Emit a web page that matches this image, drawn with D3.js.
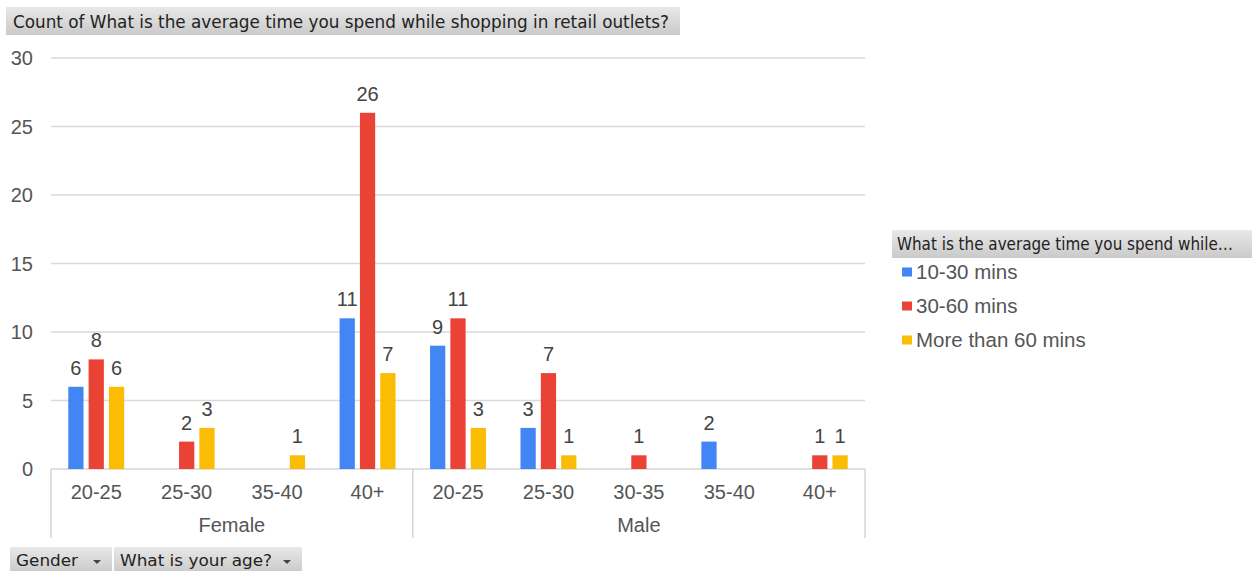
<!DOCTYPE html>
<html>
<head>
<meta charset="utf-8">
<script src="https://cdn.jsdelivr.net/npm/d3@7"></script>
<style>
  html, body { margin: 0; padding: 0; background: #fff; }
  svg { display: block; }
</style>
</head>
<body>
<svg id="chart" width="1252" height="571"></svg>
<script>
// Pivot chart: count of shoppers by gender / age group and time spent in retail outlets
const genders = ["Female", "Male"];
const femaleAges = ["20-25", "25-30", "35-40", "40+"];
const maleAges = ["20-25", "25-30", "30-35", "35-40", "40+"];
const seriesNames = ["10-30 mins", "30-60 mins", "More than 60 mins"];
const seriesColors = ["#4285F4", "#EA4335", "#FBBC04"];
// values per age group, in series order (null = no responses)
const female10to30 = [6, null, null, 11];
const female30to60 = [8, 2, null, 26];
const femaleOver60 = [6, 3, 1, 7];
const male10to30 = [9, 3, null, 2, null];
const male30to60 = [11, 7, 1, null, 1];
const maleOver60 = [3, 1, null, null, 1];
const yTicks = [0, 5, 10, 15, 20, 25, 30];
const chartTitle = "Count of What is the average time you spend while shopping in retail outlets?";
const legendTitle = "What is the average time you spend while…";
const filterButtons = ["Gender", "What is your age?"];

const rows = [];
femaleAges.forEach((a, i) => rows.push({ gender: "Female", age: a, values: [female10to30[i], female30to60[i], femaleOver60[i]] }));
maleAges.forEach((a, i) => rows.push({ gender: "Male", age: a, values: [male10to30[i], male30to60[i], maleOver60[i]] }));
rows.forEach(r => r.key = r.gender + "|" + r.age);

const svg = d3.select("#chart");
const plotLeft = 51, plotRight = 865, plotTop = 58, plotBottom = 469;
const textFont = "'Liberation Sans', Arial, sans-serif";
const headerFont = "'DejaVu Sans Condensed', 'DejaVu Sans', sans-serif";
const labelSize = 20;

const x = d3.scaleBand().domain(rows.map(r => r.key)).range([plotLeft, plotRight]);
const xs = d3.scaleBand().domain(d3.range(seriesNames.length)).range([0, x.bandwidth()])
  .paddingInner(0.25).paddingOuter(0.85);
const y = d3.scaleLinear().domain([0, 30]).range([plotBottom, plotTop]);

// header gradient
const defs = svg.append("defs");
const grad = defs.append("linearGradient").attr("id", "hdr").attr("x1", 0).attr("y1", 0).attr("x2", 0).attr("y2", 1);
grad.append("stop").attr("offset", "0%").attr("stop-color", "#e8e8e8");
grad.append("stop").attr("offset", "100%").attr("stop-color", "#cacaca");

// title box
svg.append("rect").attr("x", 6).attr("y", 7).attr("width", 674).attr("height", 28).attr("fill", "url(#hdr)");
svg.append("text").attr("x", 13).attr("y", 28).attr("font-family", headerFont).attr("font-size", 17.5)
  .attr("textLength", 656).attr("lengthAdjust", "spacingAndGlyphs")
  .attr("fill", "#222").text(chartTitle);

// gridlines and y labels
svg.append("g").selectAll("line").data(yTicks.filter(t => t > 0)).join("line")
  .attr("x1", plotLeft).attr("x2", plotRight)
  .attr("y1", d => y(d)).attr("y2", d => y(d))
  .attr("stroke", "#d9d9d9").attr("stroke-width", 1.5);
svg.append("g").selectAll("text").data(yTicks).join("text")
  .attr("x", 33).attr("y", d => y(d)).attr("dy", "0.36em").attr("text-anchor", "end")
  .attr("font-family", textFont).attr("font-size", labelSize).attr("fill", "#555")
  .text(d => d);

// x axis frame
const frame = svg.append("g").attr("stroke", "#d4d4d4").attr("stroke-width", 1.5);
frame.append("line").attr("x1", plotLeft).attr("x2", plotRight).attr("y1", plotBottom).attr("y2", plotBottom);
const femaleEnd = x(rows[femaleAges.length - 1].key) + x.bandwidth();
[plotLeft, femaleEnd, plotRight].forEach(px => {
  frame.append("line").attr("x1", px).attr("x2", px).attr("y1", plotBottom).attr("y2", 538);
});

// age labels
svg.append("g").selectAll("text").data(rows).join("text")
  .attr("x", d => x(d.key) + x.bandwidth() / 2).attr("y", 499).attr("text-anchor", "middle")
  .attr("font-family", textFont).attr("font-size", labelSize).attr("fill", "#555")
  .text(d => d.age);
// gender labels
genders.forEach(g => {
  const keys = rows.filter(r => r.gender === g).map(r => r.key);
  const x0 = x(keys[0]), x1 = x(keys[keys.length - 1]) + x.bandwidth();
  svg.append("text").attr("x", (x0 + x1) / 2).attr("y", 532).attr("text-anchor", "middle")
    .attr("font-family", textFont).attr("font-size", labelSize).attr("fill", "#555").text(g);
});

// bars
const barData = [];
rows.forEach(r => r.values.forEach((v, i) => { if (v != null) barData.push({ key: r.key, s: i, v }); }));
svg.append("g").selectAll("rect").data(barData).join("rect")
  .attr("x", d => x(d.key) + xs(d.s)).attr("width", xs.bandwidth())
  .attr("y", d => y(d.v)).attr("height", d => y(0) - y(d.v))
  .attr("fill", d => seriesColors[d.s]);
svg.append("g").selectAll("text").data(barData).join("text")
  .attr("x", d => x(d.key) + xs(d.s) + xs.bandwidth() / 2).attr("y", d => y(d.v) - 12)
  .attr("text-anchor", "middle").attr("font-family", textFont).attr("font-size", labelSize).attr("fill", "#444")
  .text(d => d.v);

// legend
svg.append("rect").attr("x", 892).attr("y", 230).attr("width", 360).attr("height", 28).attr("fill", "url(#hdr)");
svg.append("text").attr("x", 897).attr("y", 250).attr("font-family", headerFont).attr("font-size", 17.5)
  .attr("textLength", 336).attr("lengthAdjust", "spacingAndGlyphs")
  .attr("fill", "#222").text(legendTitle);
const leg = svg.append("g").selectAll("g").data(seriesNames).join("g")
  .attr("transform", (d, i) => `translate(902, ${272 + i * 34})`);
leg.append("rect").attr("x", 0).attr("y", -4.5).attr("width", 10).attr("height", 9)
  .attr("fill", (d, i) => seriesColors[i]);
leg.append("text").attr("x", 14).attr("y", 0).attr("dy", "0.36em")
  .attr("font-family", textFont).attr("font-size", 20.5).attr("fill", "#555").text(d => d);

// filter buttons
const btnX = [10, 114], btnW = [102, 188], btnTextW = [62, 152];
filterButtons.forEach((b, i) => {
  svg.append("rect").attr("x", btnX[i]).attr("y", 547).attr("width", btnW[i]).attr("height", 26).attr("fill", "url(#hdr)");
  svg.append("text").attr("x", btnX[i] + 6).attr("y", 566).attr("font-family", headerFont).attr("font-size", 16.5)
    .attr("textLength", btnTextW[i]).attr("lengthAdjust", "spacingAndGlyphs")
    .attr("fill", "#222").text(b);
  const ax = btnX[i] + btnW[i] - 15;
  svg.append("path").attr("d", `M${ax - 4},560 L${ax + 4},560 L${ax},564 Z`).attr("fill", "#444");
});
</script>
</body>
</html>
